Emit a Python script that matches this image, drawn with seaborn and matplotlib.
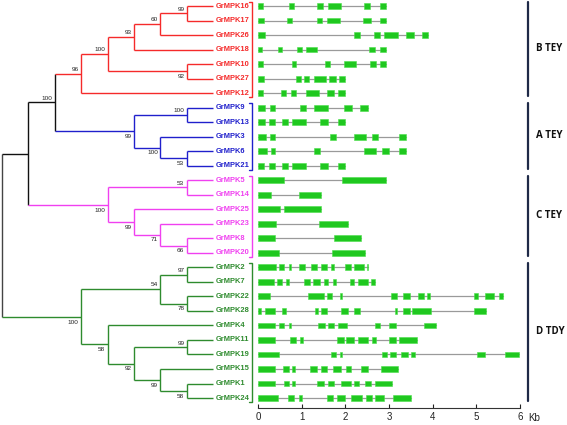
import matplotlib
matplotlib.use("Agg")
import matplotlib.pyplot as plt
import seaborn as sns
import pandas as pd

# leaf order, top to bottom
genes = ["GrMPK16", "GrMPK17", "GrMPK26", "GrMPK18", "GrMPK10", "GrMPK27", "GrMPK12",
         "GrMPK9", "GrMPK13", "GrMPK3", "GrMPK6", "GrMPK21",
         "GrMPK5", "GrMPK14", "GrMPK25", "GrMPK23", "GrMPK8", "GrMPK20",
         "GrMPK2", "GrMPK7", "GrMPK22", "GrMPK28", "GrMPK4", "GrMPK11", "GrMPK19",
         "GrMPK15", "GrMPK1", "GrMPK24"]
group_names = ["B TEY", "A TEY", "C TEY", "D TDY"]
group_sizes = [7, 5, 6, 10]
group_colors = ["#f52a2a", "#2020cc", "#f040f0", "#2e8b2e"]

# internal nodes: name -> (depth, children, bootstrap)
nodes = {
    "root": (0, ["n1", "D"], None),
    "n1": (1, ["BA", "C"], None),
    "BA": (2, ["B", "A"], 100),
    "B": (3, ["B1", "GrMPK12"], 96),
    "B1": (4, ["B2", "n10_27"], 100),
    "B2": (5, ["B3", "GrMPK18"], 93),
    "B3": (6, ["n16_17", "GrMPK26"], 60),
    "n16_17": (7, ["GrMPK16", "GrMPK17"], 99),
    "n10_27": (7, ["GrMPK10", "GrMPK27"], 92),
    "A": (5, ["n9_13", "A2"], 99),
    "n9_13": (7, ["GrMPK9", "GrMPK13"], 100),
    "A2": (6, ["GrMPK3", "n6_21"], 100),
    "n6_21": (7, ["GrMPK6", "GrMPK21"], 53),
    "C": (4, ["n5_14", "C2"], 100),
    "n5_14": (7, ["GrMPK5", "GrMPK14"], 53),
    "C2": (5, ["GrMPK25", "C3"], 99),
    "C3": (6, ["GrMPK23", "n8_20"], 71),
    "n8_20": (7, ["GrMPK8", "GrMPK20"], 66),
    "D": (3, ["D1", "D2"], 100),
    "D1": (6, ["n2_7", "n22_28"], 54),
    "n2_7": (7, ["GrMPK2", "GrMPK7"], 97),
    "n22_28": (7, ["GrMPK22", "GrMPK28"], 78),
    "D2": (4, ["GrMPK4", "D3"], 58),
    "D3": (5, ["n11_19", "D4"], 92),
    "n11_19": (7, ["GrMPK11", "GrMPK19"], 99),
    "D4": (6, ["GrMPK15", "n1_24"], 99),
    "n1_24": (7, ["GrMPK1", "GrMPK24"], 58),
}
leaf_depth = 8

# exon positions in kb
exons = {
    "GrMPK16": [(0, 0.11), (0.72, 0.82), (1.36, 1.48), (1.61, 1.9), (2.43, 2.57), (2.8, 2.94)],
    "GrMPK17": [(0, 0.14), (0.67, 0.79), (1.34, 1.47), (1.58, 1.88), (2.41, 2.58), (2.8, 2.94)],
    "GrMPK26": [(0, 0.15), (2.2, 2.33), (2.66, 2.8), (2.88, 3.2), (3.4, 3.58), (3.75, 3.9)],
    "GrMPK18": [(0, 0.1), (0.46, 0.56), (0.9, 1.0), (1.11, 1.36), (2.54, 2.69), (2.8, 2.94)],
    "GrMPK10": [(0, 0.12), (0.77, 0.87), (1.53, 1.64), (1.97, 2.25), (2.56, 2.71), (2.79, 2.94)],
    "GrMPK27": [(0, 0.14), (0.87, 0.98), (1.05, 1.16), (1.29, 1.55), (1.62, 1.78), (1.86, 2.0)],
    "GrMPK12": [(0, 0.12), (0.52, 0.64), (0.75, 0.88), (1.1, 1.39), (1.57, 1.73), (1.83, 1.99)],
    "GrMPK9": [(0, 0.17), (0.27, 0.4), (0.96, 1.1), (1.28, 1.6), (1.97, 2.15), (2.34, 2.52)],
    "GrMPK13": [(0, 0.16), (0.26, 0.39), (0.56, 0.69), (0.77, 1.1), (1.43, 1.6), (1.83, 2.0)],
    "GrMPK3": [(0, 0.18), (0.27, 0.4), (1.64, 1.78), (2.19, 2.48), (2.6, 2.75), (3.23, 3.38)],
    "GrMPK6": [(0, 0.2), (0.29, 0.4), (1.28, 1.42), (2.42, 2.71), (2.85, 3.01), (3.24, 3.39)],
    "GrMPK21": [(0, 0.14), (0.26, 0.38), (0.56, 0.69), (0.77, 1.09), (1.43, 1.6), (1.83, 1.99)],
    "GrMPK5": [(0, 0.6), (1.93, 2.92)],
    "GrMPK14": [(0, 0.3), (0.94, 1.44)],
    "GrMPK25": [(0, 0.5), (0.59, 1.44)],
    "GrMPK23": [(0, 0.41), (1.39, 2.07)],
    "GrMPK8": [(0, 0.39), (1.74, 2.37)],
    "GrMPK20": [(0, 0.47), (1.69, 2.45)],
    "GrMPK2": [(0, 0.42), (0.49, 0.6), (0.71, 0.75), (0.94, 1.08), (1.22, 1.36), (1.45, 1.58),
               (1.68, 1.74), (2.0, 2.12), (2.19, 2.42), (2.5, 2.52)],
    "GrMPK7": [(0, 0.37), (0.44, 0.56), (0.64, 0.7), (1.05, 1.19), (1.26, 1.42), (1.5, 1.6),
               (1.72, 1.78), (2.1, 2.19), (2.29, 2.51), (2.59, 2.68)],
    "GrMPK22": [(0, 0.27), (1.15, 1.5), (1.57, 1.7), (1.87, 1.92), (3.05, 3.19), (3.32, 3.47),
                (3.66, 3.8), (3.87, 3.94), (4.94, 5.04), (5.2, 5.41), (5.52, 5.6)],
    "GrMPK28": [(0, 0.07), (0.16, 0.39), (0.54, 0.64), (1.3, 1.37), (1.45, 1.58), (1.89, 2.06),
                (2.19, 2.34), (3.13, 3.18), (3.32, 3.47), (3.53, 3.96), (4.95, 5.23)],
    "GrMPK4": [(0, 0.38), (0.48, 0.6), (0.71, 0.75), (1.38, 1.53), (1.6, 1.75), (1.84, 2.04),
               (2.67, 2.79), (3.0, 3.16), (3.81, 4.07)],
    "GrMPK11": [(0, 0.39), (0.73, 0.87), (0.97, 1.03), (1.82, 1.96), (2.02, 2.19), (2.3, 2.51),
                (2.62, 2.71), (3.01, 3.15), (3.24, 3.65)],
    "GrMPK19": [(0, 0.49), (1.67, 1.78), (1.87, 1.92), (2.83, 2.96), (3.03, 3.17), (3.27, 3.43),
                (3.51, 3.6), (5.02, 5.19), (5.66, 5.98)],
    "GrMPK15": [(0, 0.39), (0.58, 0.7), (0.78, 0.84), (1.19, 1.34), (1.44, 1.59), (1.72, 1.91),
                (2.01, 2.12), (2.37, 2.52), (2.81, 3.2)],
    "GrMPK1": [(0, 0.39), (0.59, 0.71), (0.78, 0.84), (1.36, 1.51), (1.6, 1.75), (1.91, 2.12),
               (2.2, 2.31), (2.46, 2.59), (2.69, 3.07)],
    "GrMPK24": [(0, 0.45), (0.69, 0.82), (0.94, 1.01), (1.57, 1.72), (1.82, 1.99), (2.14, 2.38),
                (2.48, 2.6), (2.69, 2.88), (3.09, 3.51)],
}
kb_ticks = [0, 1, 2, 3, 4, 5, 6]

sns.set_theme(style="white")
plt.rcParams["font.family"] = ["Liberation Sans", "DejaVu Sans"]

W, H = 567, 425
fig = plt.figure(figsize=(W / 100, H / 100), dpi=100)
row_top, row_step = 6.0, 14.52
ylim = ((408 - row_top) / row_step, -row_top / row_step)
ax_t = fig.add_axes([0, (H - 408) / H, 258 / W, 408 / H])
ax_g = fig.add_axes([258 / W, (H - 408) / H, (520 - 258) / W, 408 / H])
dx = 26.4
ax_t.set_xlim(-2 / dx, 256 / dx)
for a in (ax_t, ax_g):
    a.set_ylim(*ylim)
    a.patch.set_alpha(0)

# leaf colours
leaf_color = {}
i = 0
for gname, n, c in zip(group_names, group_sizes, group_colors):
    for g in genes[i:i + n]:
        leaf_color[g] = c
    i += n

ypos = {g: r for r, g in enumerate(genes)}
xpos = {g: leaf_depth for g in genes}
ncolor = dict(leaf_color)


def layout(name):
    if name in ypos:
        return ypos[name]
    depth, kids, _ = nodes[name]
    ys = [layout(k) for k in kids]
    ypos[name] = (ys[0] + ys[-1]) / 2
    xpos[name] = depth
    cols = set(ncolor[k] for k in kids)
    ncolor[name] = cols.pop() if len(cols) == 1 else "#111111"
    return ypos[name]


layout("root")
ncolor["root"] = "#444444"

for name, (depth, kids, _) in nodes.items():
    ax_t.plot([depth, depth], [ypos[kids[0]], ypos[kids[-1]]], color=ncolor[name],
              lw=1.0, solid_capstyle="butt")
    for j, k in enumerate(kids):
        ax_t.plot([depth, xpos[k]], [ypos[k], ypos[k]], color=ncolor[k], lw=1.0,
                  solid_capstyle="butt")
        if k in nodes and nodes[k][2] is not None:
            above = j == 0
            ax_t.annotate(str(nodes[k][2]), (xpos[k], ypos[k]),
                          xytext=(-1.8, 1.2 if above else -2.0), textcoords="offset points",
                          ha="right", va="bottom" if above else "top", fontsize=4.6,
                          color="#222222")

for g in genes:
    ax_t.annotate(g, (leaf_depth, ypos[g]), xytext=(1.5, 0), textcoords="offset points",
                  ha="left", va="center", fontsize=5.4, fontweight="bold", color=leaf_color[g])

# brackets
bx = (252 - 2) / dx
i = 0
for n, c in zip(group_sizes, group_colors):
    y0, y1 = i - 0.3, i + n - 1 + 0.3
    ax_t.plot([bx - 0.12, bx, bx, bx - 0.12], [y0, y0, y1, y1], color=c, lw=1.0,
              clip_on=False)
    i += n
ax_t.axis("off")

# gene structures
intron = pd.DataFrame([{"gene": g, "kb": x, "row": ypos[g]}
                       for g in genes for x in (0, exons[g][-1][1])])
sns.lineplot(data=intron, x="kb", y="row", units="gene", estimator=None, sort=False,
             color="#9a9a9a", lw=0.9, ax=ax_g, legend=False, zorder=2)
for g in genes:
    ax_g.broken_barh([(s, e - s) for s, e in exons[g]], (ypos[g] - 0.2, 0.4),
                     facecolor="#1fc81f", edgecolor="#4ade4a", lw=0.4, zorder=3)

ax_g.set_ylim(*ylim)
ax_g.set_xlim(0, 6)
ax_g.set_xticks(kb_ticks)
ax_g.set_xticklabels([str(t) for t in kb_ticks])
ax_g.tick_params(axis="x", direction="in", length=3, width=0.8, pad=3, labelsize=7,
                 colors="#222222", bottom=True)
ax_g.set_yticks([])
ax_g.set_xlabel("")
ax_g.set_ylabel("")
sns.despine(ax=ax_g, left=True)
ax_g.spines["bottom"].set_color("#333333")
ax_g.spines["bottom"].set_linewidth(0.8)
ax_g.text(6.2, 28.35, "Kb", fontsize=7, color="#222222", ha="left", va="center",
          clip_on=False)

# subfamily lines and labels
gx = (528 - 258) / 43.67
i = 0
for gname, n in zip(group_names, group_sizes):
    y0, y1 = i - 0.3, i + n - 1 + 0.2
    ax_g.plot([gx, gx], [y0, y1], color="#1f2a48", lw=1.6, clip_on=False)
    ax_g.text(gx + 0.18, (y0 + y1) / 2, gname, fontsize=7, fontweight="bold",
              family=["Open Sans", "DejaVu Sans"], color="#111111", ha="left",
              va="center", clip_on=False)
    i += n

fig.savefig("out.png", dpi=100)
